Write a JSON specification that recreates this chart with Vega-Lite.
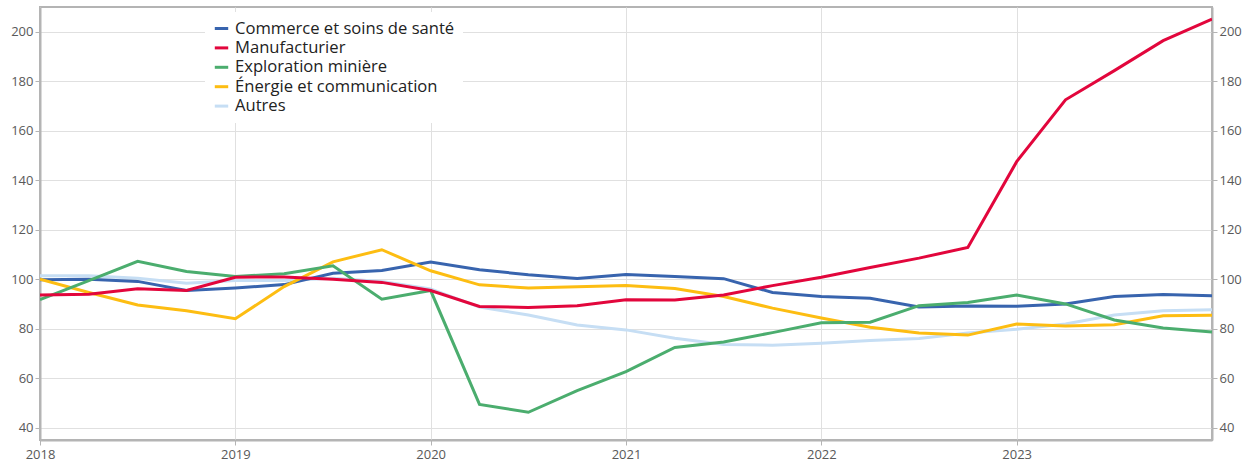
{
  "$schema": "https://vega.github.io/schema/vega-lite/v6.json",
  "width": 1172,
  "height": 433,
  "autosize": "none",
  "padding": {"left": 40, "top": 7, "right": 40, "bottom": 22},
  "background": "white",
  "config": {
    "font": "Open Sans",
    "view": {"stroke": "#b4b4b4", "strokeWidth": 2},
    "axis": {
      "labelFont": "Open Sans",
      "labelFontSize": 13,
      "labelColor": "#595959",
      "gridColor": "#e0e0e0",
      "gridWidth": 1,
      "domainColor": "#b4b4b4",
      "domainWidth": 2,
      "tickColor": "#b4b4b4",
      "tickSize": 5,
      "title": null
    }
  },
  "data": {
    "values": [
      {"t": 2018.00, "s": "Autres", "v": 101.4}, {"t": 2018.25, "s": "Autres", "v": 101.4}, {"t": 2018.50, "s": "Autres", "v": 100.4}, {"t": 2018.75, "s": "Autres", "v": 98.4},
      {"t": 2019.00, "s": "Autres", "v": 99.5}, {"t": 2019.25, "s": "Autres", "v": 99.5}, {"t": 2019.50, "s": "Autres", "v": 100.4}, {"t": 2019.75, "s": "Autres", "v": 99.1},
      {"t": 2020.00, "s": "Autres", "v": 96.0}, {"t": 2020.25, "s": "Autres", "v": 88.7}, {"t": 2020.50, "s": "Autres", "v": 85.5}, {"t": 2020.75, "s": "Autres", "v": 81.5},
      {"t": 2021.00, "s": "Autres", "v": 79.5}, {"t": 2021.25, "s": "Autres", "v": 76.1}, {"t": 2021.50, "s": "Autres", "v": 73.6}, {"t": 2021.75, "s": "Autres", "v": 73.3},
      {"t": 2022.00, "s": "Autres", "v": 74.1}, {"t": 2022.25, "s": "Autres", "v": 75.2}, {"t": 2022.50, "s": "Autres", "v": 76.0}, {"t": 2022.75, "s": "Autres", "v": 78.2},
      {"t": 2023.00, "s": "Autres", "v": 79.8}, {"t": 2023.25, "s": "Autres", "v": 81.9}, {"t": 2023.50, "s": "Autres", "v": 85.5}, {"t": 2023.75, "s": "Autres", "v": 87.2},
      {"t": 2024.00, "s": "Autres", "v": 87.6},

      {"t": 2018.00, "s": "Commerce et soins de santé", "v": 99.8}, {"t": 2018.25, "s": "Commerce et soins de santé", "v": 100.0}, {"t": 2018.50, "s": "Commerce et soins de santé", "v": 99.1}, {"t": 2018.75, "s": "Commerce et soins de santé", "v": 95.4},
      {"t": 2019.00, "s": "Commerce et soins de santé", "v": 96.4}, {"t": 2019.25, "s": "Commerce et soins de santé", "v": 97.8}, {"t": 2019.50, "s": "Commerce et soins de santé", "v": 102.4}, {"t": 2019.75, "s": "Commerce et soins de santé", "v": 103.5},
      {"t": 2020.00, "s": "Commerce et soins de santé", "v": 106.9}, {"t": 2020.25, "s": "Commerce et soins de santé", "v": 103.8}, {"t": 2020.50, "s": "Commerce et soins de santé", "v": 101.8}, {"t": 2020.75, "s": "Commerce et soins de santé", "v": 100.3},
      {"t": 2021.00, "s": "Commerce et soins de santé", "v": 101.9}, {"t": 2021.25, "s": "Commerce et soins de santé", "v": 101.1}, {"t": 2021.50, "s": "Commerce et soins de santé", "v": 100.2}, {"t": 2021.75, "s": "Commerce et soins de santé", "v": 94.6},
      {"t": 2022.00, "s": "Commerce et soins de santé", "v": 93.0}, {"t": 2022.25, "s": "Commerce et soins de santé", "v": 92.3}, {"t": 2022.50, "s": "Commerce et soins de santé", "v": 88.8}, {"t": 2022.75, "s": "Commerce et soins de santé", "v": 89.2},
      {"t": 2023.00, "s": "Commerce et soins de santé", "v": 89.1}, {"t": 2023.25, "s": "Commerce et soins de santé", "v": 90.0}, {"t": 2023.50, "s": "Commerce et soins de santé", "v": 93.0}, {"t": 2023.75, "s": "Commerce et soins de santé", "v": 93.8},
      {"t": 2024.00, "s": "Commerce et soins de santé", "v": 93.3},

      {"t": 2018.00, "s": "Énergie et communication", "v": 100.0}, {"t": 2018.25, "s": "Énergie et communication", "v": 94.6}, {"t": 2018.50, "s": "Énergie et communication", "v": 89.6}, {"t": 2018.75, "s": "Énergie et communication", "v": 87.2},
      {"t": 2019.00, "s": "Énergie et communication", "v": 84.0}, {"t": 2019.25, "s": "Énergie et communication", "v": 97.0}, {"t": 2019.50, "s": "Énergie et communication", "v": 107.0}, {"t": 2019.75, "s": "Énergie et communication", "v": 111.9},
      {"t": 2020.00, "s": "Énergie et communication", "v": 103.4}, {"t": 2020.25, "s": "Énergie et communication", "v": 97.7}, {"t": 2020.50, "s": "Énergie et communication", "v": 96.4}, {"t": 2020.75, "s": "Énergie et communication", "v": 96.9},
      {"t": 2021.00, "s": "Énergie et communication", "v": 97.4}, {"t": 2021.25, "s": "Énergie et communication", "v": 96.2}, {"t": 2021.50, "s": "Énergie et communication", "v": 93.0}, {"t": 2021.75, "s": "Énergie et communication", "v": 88.3},
      {"t": 2022.00, "s": "Énergie et communication", "v": 84.3}, {"t": 2022.25, "s": "Énergie et communication", "v": 80.6}, {"t": 2022.50, "s": "Énergie et communication", "v": 78.2}, {"t": 2022.75, "s": "Énergie et communication", "v": 77.4},
      {"t": 2023.00, "s": "Énergie et communication", "v": 81.9}, {"t": 2023.25, "s": "Énergie et communication", "v": 81.1}, {"t": 2023.50, "s": "Énergie et communication", "v": 81.6}, {"t": 2023.75, "s": "Énergie et communication", "v": 85.2},
      {"t": 2024.00, "s": "Énergie et communication", "v": 85.4},

      {"t": 2018.00, "s": "Exploration minière", "v": 91.7}, {"t": 2018.25, "s": "Exploration minière", "v": 99.4}, {"t": 2018.50, "s": "Exploration minière", "v": 107.2}, {"t": 2018.75, "s": "Exploration minière", "v": 103.1},
      {"t": 2019.00, "s": "Exploration minière", "v": 101.1}, {"t": 2019.25, "s": "Exploration minière", "v": 102.2}, {"t": 2019.50, "s": "Exploration minière", "v": 105.4}, {"t": 2019.75, "s": "Exploration minière", "v": 91.9},
      {"t": 2020.00, "s": "Exploration minière", "v": 95.4}, {"t": 2020.25, "s": "Exploration minière", "v": 49.4}, {"t": 2020.50, "s": "Exploration minière", "v": 46.2}, {"t": 2020.75, "s": "Exploration minière", "v": 55.0},
      {"t": 2021.00, "s": "Exploration minière", "v": 62.6}, {"t": 2021.25, "s": "Exploration minière", "v": 72.4}, {"t": 2021.50, "s": "Exploration minière", "v": 74.6}, {"t": 2021.75, "s": "Exploration minière", "v": 78.4},
      {"t": 2022.00, "s": "Exploration minière", "v": 82.4}, {"t": 2022.25, "s": "Exploration minière", "v": 82.6}, {"t": 2022.50, "s": "Exploration minière", "v": 89.3}, {"t": 2022.75, "s": "Exploration minière", "v": 90.6},
      {"t": 2023.00, "s": "Exploration minière", "v": 93.6}, {"t": 2023.25, "s": "Exploration minière", "v": 90.0}, {"t": 2023.50, "s": "Exploration minière", "v": 83.5}, {"t": 2023.75, "s": "Exploration minière", "v": 80.3},
      {"t": 2024.00, "s": "Exploration minière", "v": 78.6},

      {"t": 2018.00, "s": "Manufacturier", "v": 93.6}, {"t": 2018.25, "s": "Manufacturier", "v": 93.9}, {"t": 2018.50, "s": "Manufacturier", "v": 96.1}, {"t": 2018.75, "s": "Manufacturier", "v": 95.4},
      {"t": 2019.00, "s": "Manufacturier", "v": 100.8}, {"t": 2019.25, "s": "Manufacturier", "v": 100.9}, {"t": 2019.50, "s": "Manufacturier", "v": 100.0}, {"t": 2019.75, "s": "Manufacturier", "v": 98.7},
      {"t": 2020.00, "s": "Manufacturier", "v": 95.4}, {"t": 2020.25, "s": "Manufacturier", "v": 89.0}, {"t": 2020.50, "s": "Manufacturier", "v": 88.6}, {"t": 2020.75, "s": "Manufacturier", "v": 89.3},
      {"t": 2021.00, "s": "Manufacturier", "v": 91.7}, {"t": 2021.25, "s": "Manufacturier", "v": 91.6}, {"t": 2021.50, "s": "Manufacturier", "v": 93.6}, {"t": 2021.75, "s": "Manufacturier", "v": 97.4},
      {"t": 2022.00, "s": "Manufacturier", "v": 100.8}, {"t": 2022.25, "s": "Manufacturier", "v": 104.7}, {"t": 2022.50, "s": "Manufacturier", "v": 108.5}, {"t": 2022.75, "s": "Manufacturier", "v": 112.8},
      {"t": 2023.00, "s": "Manufacturier", "v": 147.5}, {"t": 2023.25, "s": "Manufacturier", "v": 172.5}, {"t": 2023.50, "s": "Manufacturier", "v": 184.3}, {"t": 2023.75, "s": "Manufacturier", "v": 196.4},
      {"t": 2024.00, "s": "Manufacturier", "v": 205.1}
    ]
  },
  "layer": [
    {
      "mark": {"type": "line", "strokeWidth": 3, "clip": true},
      "encoding": {
        "x": {
          "field": "t", "type": "quantitative",
          "scale": {"domain": [2018, 2024], "nice": false, "zero": false},
          "axis": {"values": [2018, 2019, 2020, 2021, 2022, 2023], "format": "d", "labelPadding": 3, "labelFlush": false}
        },
        "y": {
          "field": "v", "type": "quantitative",
          "scale": {"domain": [35, 210], "nice": false, "zero": false},
          "axis": {"orient": "left", "values": [40, 60, 80, 100, 120, 140, 160, 180, 200], "labelPadding": 2}
        },
        "color": {
          "field": "s", "type": "nominal",
          "scale": {
            "domain": ["Commerce et soins de santé", "Manufacturier", "Exploration minière", "Énergie et communication", "Autres"],
            "range": ["#3864ae", "#e2063c", "#4bad6e", "#fdbd12", "#c6def4"]
          },
          "legend": {
            "orient": "none", "legendX": 165, "legendY": 5,
            "title": null, "symbolType": "stroke", "symbolStrokeWidth": 3, "symbolSize": 180,
            "labelFont": "Open Sans", "labelFontSize": 16.6, "labelColor": "#222222", "labelLimit": 0,
            "rowPadding": 1.4, "labelOffset": 5,
            "fillColor": "white", "padding": 8
          }
        },
        "strokeWidth": {
          "condition": {"test": "datum.s === 'Autres'", "value": 4},
          "value": 3
        },
        "order": {"field": "t"}
      }
    },
    {
      "mark": {"type": "line", "opacity": 0},
      "encoding": {
        "x": {"field": "t", "type": "quantitative", "scale": {"domain": [2018, 2024], "nice": false, "zero": false}},
        "y": {
          "field": "v", "type": "quantitative",
          "scale": {"domain": [35, 210], "nice": false, "zero": false},
          "axis": {"orient": "right", "values": [40, 60, 80, 100, 120, 140, 160, 180, 200], "grid": false, "labelPadding": 2}
        },
        "detail": {"field": "s"}
      }
    }
  ],
  "resolve": {"scale": {"y": "shared"}, "axis": {"y": "independent"}}
}
